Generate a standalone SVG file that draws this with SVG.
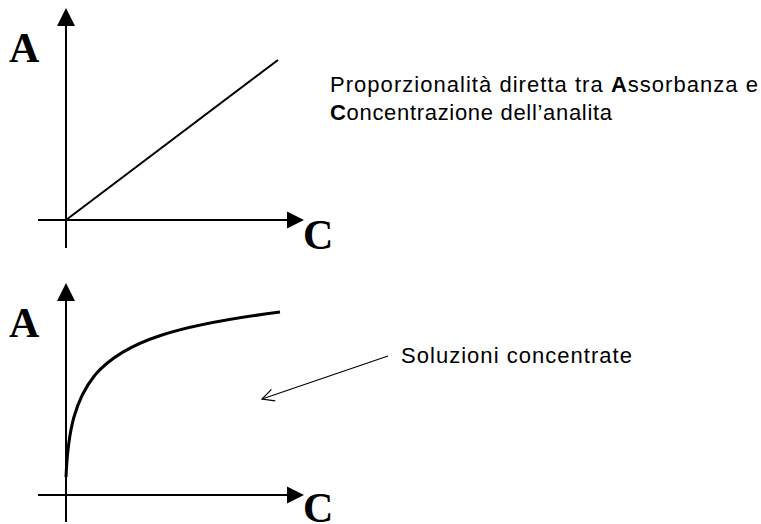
<svg xmlns="http://www.w3.org/2000/svg" width="761" height="524" viewBox="0 0 761 524">
<style>
.ax{stroke:#000;stroke-width:2;fill:none}
.head{fill:#000}
.lbl{font-family:"Liberation Serif",serif;font-weight:bold;font-size:42px;fill:#000}
.txt{font-family:"Liberation Sans",Arial,sans-serif;font-size:22px;fill:#000}
.b{font-weight:bold}
</style>
<defs>
<marker id="open" markerWidth="14" markerHeight="14" refX="13" refY="7" orient="auto" markerUnits="userSpaceOnUse">
<path d="M1,1 L13,7 L1,13" fill="none" stroke="#000" stroke-width="1.2"/>
</marker>
</defs>
<rect width="761" height="524" fill="#fff"/>
<g id="graph1">
<line class="ax" x1="66" y1="24" x2="66" y2="248"/>
<polygon class="head" points="66,8 57,26 75,26"/>
<line class="ax" x1="38" y1="220" x2="289" y2="220"/>
<polygon class="head" points="304,220 287,211.5 287,228.5"/>
<line class="ax" x1="66" y1="220" x2="278" y2="60"/>
<text class="lbl" x="9" y="62">A</text>
<text class="lbl" x="303" y="249">C</text>
</g>
<g id="graph2">
<line class="ax" x1="66" y1="298" x2="66" y2="522"/>
<polygon class="head" points="66,283 57,301 75,301"/>
<line class="ax" x1="38" y1="495" x2="289" y2="495"/>
<polygon class="head" points="304,495 287,486.5 287,503.5"/>
<path d="M66,477 C68,430 75,400 95,375 C125,340 180,325 280,312" fill="none" stroke="#000" stroke-width="3"/>
<text class="lbl" x="9" y="337">A</text>
<text class="lbl" x="303" y="522">C</text>
</g>
<g id="note1">
<text class="txt" x="330" y="92" textLength="428" lengthAdjust="spacing">Proporzionalità diretta tra <tspan class="b">A</tspan>ssorbanza e</text>
<text class="txt" x="330" y="120" textLength="282" lengthAdjust="spacing"><tspan class="b">C</tspan>oncentrazione dell’analita</text>
</g>
<g id="note2">
<text class="txt" x="401" y="363" textLength="231" lengthAdjust="spacing">Soluzioni concentrate</text>
</g>
<g id="connectors">
<line x1="388" y1="356" x2="262" y2="399" stroke="#000" stroke-width="1.2" marker-end="url(#open)"/>
</g>
</svg>
